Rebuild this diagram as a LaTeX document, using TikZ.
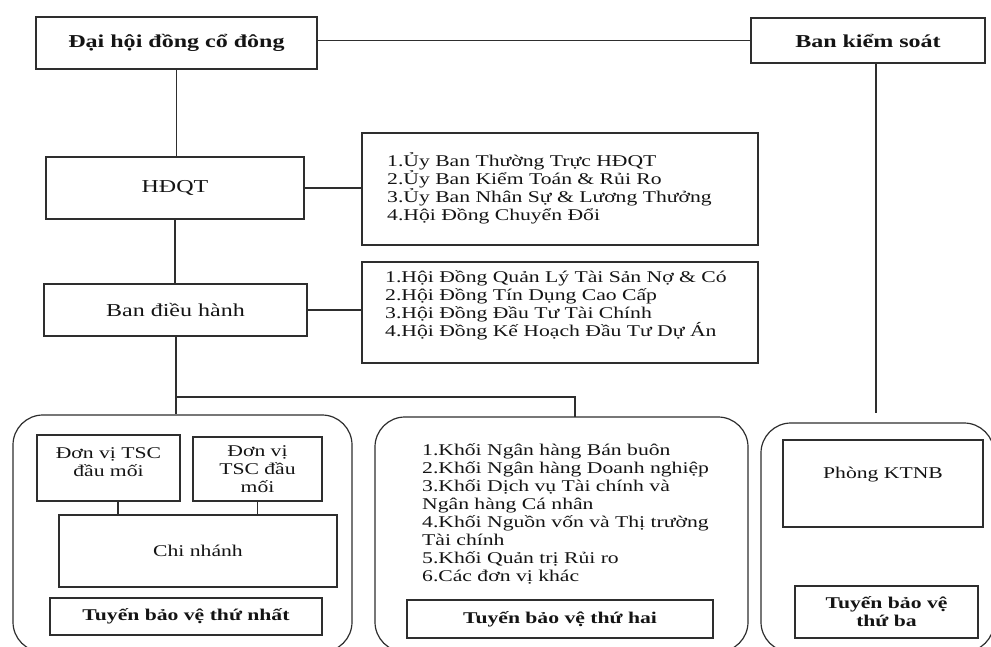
\documentclass[tikz,border=0pt]{standalone}
\usepackage{fontspec}
\setmainfont{Liberation Serif}[FakeStretch=1.32]
\definecolor{linec}{HTML}{2E2E2E}
\definecolor{txtc}{HTML}{141414}
\newcommand\fbig{\fontsize{18.2}{21}\selectfont}
\newcommand\fmid{\fontsize{16.4}{18}\selectfont}
\begin{document}
\begin{tikzpicture}[x=1pt,y=-1pt,
  every node/.style={inner sep=0pt, text=txtc, align=center},
  box/.style={draw=linec, line width=1.2pt, rectangle},
  group/.style={draw=linec, line width=1.2pt, rectangle, rounded corners=30pt},
  link/.style={draw=linec, line width=1.2pt},
  big/.style={font=\fbig},
  bigb/.style={font=\fbig\bfseries},
  mid/.style={font=\fmid},
  midb/.style={font=\fmid\bfseries},
  listtxt/.style={font=\fmid, align=left, anchor=west}]
\path[use as bounding box] (0,0) rectangle (991,647);
\clip (0,0) rectangle (991,647);

% top level
\node[box, bigb, minimum width=281pt, minimum height=52pt] (dhd) at (176.5,43) {Đại hội đồng cổ đông};
\node[box, bigb, minimum width=234pt, minimum height=45pt] (bks) at (868,40.5) {Ban kiểm soát};
\node[box, big, minimum width=258pt, minimum height=62pt] (hdqt) at (175,188) {HĐQT};
\node[box, big, minimum width=263pt, minimum height=52pt] (bdh) at (175.5,310) {Ban điều hành};

% committees
\node[box, minimum width=396pt, minimum height=112pt] (uyban) at (560,189) {};
\node[listtxt] (uybantxt) at (387,188) {1.Ủy Ban Thường Trực HĐQT\\2.Ủy Ban Kiểm Toán \& Rủi Ro\\3.Ủy Ban Nhân Sự \& Lương Thưởng\\4.Hội Đồng Chuyển Đổi};
\node[box, minimum width=396pt, minimum height=101pt] (hoidong) at (560,312.5) {};
\node[listtxt] (hoidongtxt) at (385,305) {1.Hội Đồng Quản Lý Tài Sản Nợ \& Có\\2.Hội Đồng Tín Dụng Cao Cấp\\3.Hội Đồng Đầu Tư Tài Chính\\4.Hội Đồng Kế Hoạch Đầu Tư Dự Án};

% three lines of defence
\node[group, minimum width=339pt, minimum height=237pt] (g1) at (182.5,533.5) {};
\node[group, minimum width=373pt, minimum height=235pt] (g2) at (561.5,534.5) {};
\node[group, minimum width=233pt, minimum height=229pt] (g3) at (877.5,537.5) {};

% first line
\node[box, minimum width=143pt, minimum height=66pt] (tsc1) at (108.5,468) {};
\node[mid] (tsc1txt) at (108.5,462) {Đơn vị TSC\\đầu mối};
\node[box, mid, minimum width=129pt, minimum height=64pt] (tsc2) at (257.5,469) {Đơn vị\\TSC đầu\\mối};
\node[box, mid, minimum width=278pt, minimum height=72pt] (cn) at (198,551) {Chi nhánh};
\node[box, midb, minimum width=272pt, minimum height=37pt] (t1) at (186,616.5) {Tuyến bảo vệ thứ nhất};

% second line
\node[listtxt] (khoitxt) at (422,514) {1.Khối Ngân hàng Bán buôn\\2.Khối Ngân hàng Doanh nghiệp\\3.Khối Dịch vụ Tài chính và\\Ngân hàng Cá nhân\\4.Khối Nguồn vốn và Thị trường\\Tài chính\\5.Khối Quản trị Rủi ro\\6.Các đơn vị khác};
\node[box, midb, minimum width=306pt, minimum height=38pt] (t2) at (560,619) {Tuyến bảo vệ thứ hai};

% third line
\node[box, minimum width=200pt, minimum height=87pt] (ktnb) at (883,483.5) {};
\node[mid] (ktnbtxt) at (883,475) {Phòng KTNB};
\node[box, midb, minimum width=183pt, minimum height=52pt] (t3) at (886.5,612) {Tuyến bảo vệ\\thứ ba};

% connectors
\coordinate (bksend) at (876,413);
\coordinate (split) at (176,397);
\coordinate (g2top) at (575,417);
\draw[link] (bks.west) -- (bks.west -| dhd.east);
\draw[link] (bksend |- bks.south) -- (bksend);
\draw[link] (dhd.south) -- (dhd.south |- hdqt.north);
\draw[link] (hdqt.east) -- (hdqt.east -| uyban.west);
\draw[link] (hdqt.south) -- (hdqt.south |- bdh.north);
\draw[link] (bdh.east) -- (bdh.east -| hoidong.west);
\draw[link] (split |- bdh.south) -- (split |- g1.north);
\draw[link] (split) -| (g2top);
\draw[link] ([xshift=9.5pt]tsc1.south) -- ([xshift=9.5pt]tsc1.south |- cn.north);
\draw[link] (tsc2.south) -- (tsc2.south |- cn.north);
\end{tikzpicture}
\end{document}
